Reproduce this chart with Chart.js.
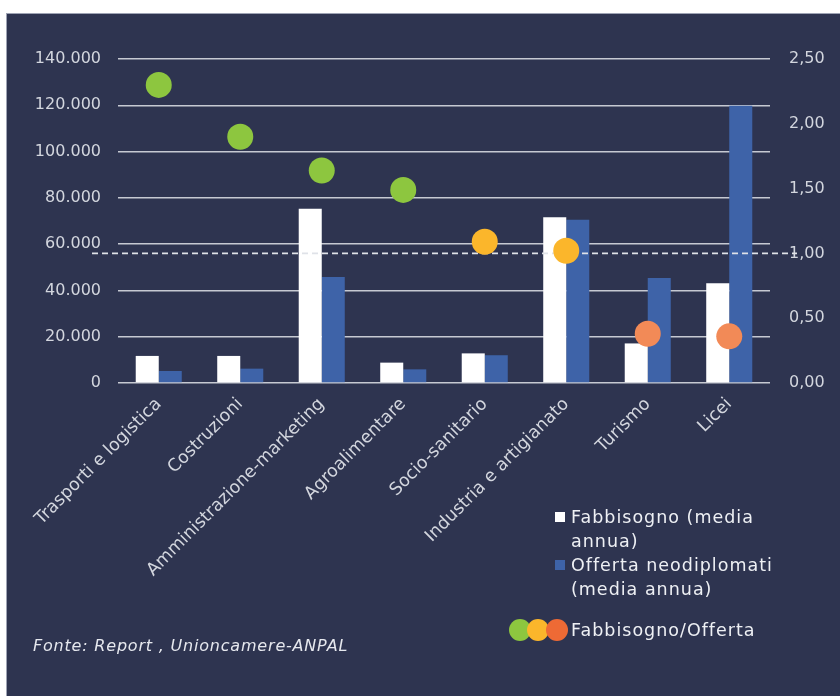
<!DOCTYPE html>
<html>
<head>
<meta charset="utf-8">
<script src="https://cdn.jsdelivr.net/npm/chart.js@4.4.1/dist/chart.umd.min.js"></script>
<style>
html,body{margin:0;padding:0;background:#ffffff;}
#wrap{position:relative;width:840px;height:696px;overflow:hidden;background:#ffffff;}
#panel{position:absolute;left:6px;top:13px;width:860px;height:720px;background:#2e3450;border:1px solid #9ea3b4;box-sizing:border-box;}
#cv{position:absolute;left:0;top:0;}
.txt{position:absolute;color:#eef0f4;font-family:"DejaVu Sans",sans-serif;font-size:17.5px;letter-spacing:1px;line-height:24px;white-space:nowrap;}
.sq{position:absolute;width:10px;height:10px;}
.dot{position:absolute;width:22px;height:22px;border-radius:50%;}
#src{position:absolute;left:33px;top:636px;color:#e6e8ee;font-family:"DejaVu Sans",sans-serif;font-style:italic;font-size:16px;letter-spacing:0.8px;white-space:nowrap;}
</style>
</head>
<body>
<div id="wrap">
  <div id="panel"></div>
  <canvas id="cv" width="840" height="696"></canvas>
  <div class="sq" style="left:555px;top:512px;background:#ffffff;"></div>
  <div class="txt" style="left:571px;top:505px;">Fabbisogno (media<br>annua)</div>
  <div class="sq" style="left:555px;top:560px;background:#3e63a8;"></div>
  <div class="txt" style="left:571px;top:553px;">Offerta neodiplomati<br>(media annua)</div>
  <div class="dot" style="left:509px;top:619px;background:#8dc63f;"></div>
  <div class="dot" style="left:527px;top:619px;background:#fbb62b;"></div>
  <div class="dot" style="left:546px;top:619px;background:#ee6a35;"></div>
  <div class="txt" style="left:571px;top:618px;">Fabbisogno/Offerta</div>
  <div id="src">Fonte: Report , Unioncamere-ANPAL</div>
</div>
<script>
const categories = ["Trasporti e logistica","Costruzioni","Amministrazione-marketing","Agroalimentare","Socio-sanitario","Industria e artigianato","Turismo","Licei"];
const fabbisogno = [11700, 11700, 75300, 8800, 12800, 71600, 17100, 43100];
const offerta = [5200, 6200, 45800, 5900, 12000, 70500, 45400, 119800];
const rapporto = [2.30, 1.90, 1.64, 1.49, 1.09, 1.02, 0.38, 0.36];
const ratioColors = ["#8dc63f","#8dc63f","#8dc63f","#8dc63f","#fbb62b","#fbb62b","#f28a57","#f28a57"];
const leftMax = 140000, leftStep = 20000;
const rightMax = 2.5, rightStep = 0.5;
const parityValue = 1.0;

const FONT = "'DejaVu Sans', sans-serif";
const tickColor = "#d3d6de";

const parityLine = {
  id: 'parityLine',
  beforeDatasetDraw(chart, args) {
    if (args.index !== 2) return;
    const y = chart.scales.y2.getPixelForValue(parityValue);
    const x0 = chart.chartArea.left - 26;
    const x1 = chart.chartArea.right + 27;
    const ctx = chart.ctx;
    ctx.save();
    ctx.strokeStyle = '#dfe2e8';
    ctx.lineWidth = 1.6;
    ctx.setLineDash([6, 4]);
    ctx.beginPath();
    ctx.moveTo(x0, y);
    ctx.lineTo(x1, y);
    ctx.stroke();
    ctx.restore();
  }
};

new Chart(document.getElementById('cv'), {
  type: 'bar',
  data: {
    labels: categories,
    datasets: [
      { label: 'Fabbisogno (media annua)', data: fabbisogno, backgroundColor: '#ffffff', yAxisID: 'y', order: 2, categoryPercentage: 0.565, barPercentage: 1.0 },
      { label: 'Offerta neodiplomati (media annua)', data: offerta, backgroundColor: '#3e63a8', yAxisID: 'y', order: 2, categoryPercentage: 0.565, barPercentage: 1.0 },
      { type: 'line', label: 'Fabbisogno/Offerta', data: rapporto, yAxisID: 'y2', showLine: false, order: 1,
        pointRadius: 13, pointHoverRadius: 13, pointBackgroundColor: ratioColors, pointBorderWidth: 0, borderColor: 'transparent' }
    ]
  },
  options: {
    responsive: false,
    animation: false,
    events: [],
    layout: { padding: { top: 59, left: 0, right: 0, bottom: 0 } },
    plugins: { legend: { display: false }, tooltip: { enabled: false } },
    scales: {
      x: {
        offset: true,
        grid: { display: false, drawTicks: false },
        border: { display: false },
        ticks: { autoSkip: false, maxRotation: 45, minRotation: 45, color: tickColor, font: { family: FONT, size: 17.5 }, padding: 11 },
        afterFit(s) { s.height = 313; }
      },
      y: {
        position: 'left',
        min: 0, max: leftMax,
        grid: { color: '#c6c9d2', lineWidth: 1.5, drawTicks: false },
        border: { display: false },
        ticks: { stepSize: leftStep, color: tickColor, font: { family: FONT, size: 16 }, padding: 17,
          callback: v => v === 0 ? '0' : v.toLocaleString('de-DE') },
        afterFit(s) { s.width = 118; }
      },
      y2: {
        position: 'right',
        min: 0, max: rightMax,
        grid: { display: false, drawTicks: false },
        border: { display: false },
        ticks: { stepSize: rightStep, color: tickColor, font: { family: FONT, size: 16 }, padding: 19,
          callback: v => v.toFixed(2).replace('.', ',') },
        afterFit(s) { s.width = 70; }
      }
    }
  },
  plugins: [parityLine]
});
</script>
</body>
</html>
